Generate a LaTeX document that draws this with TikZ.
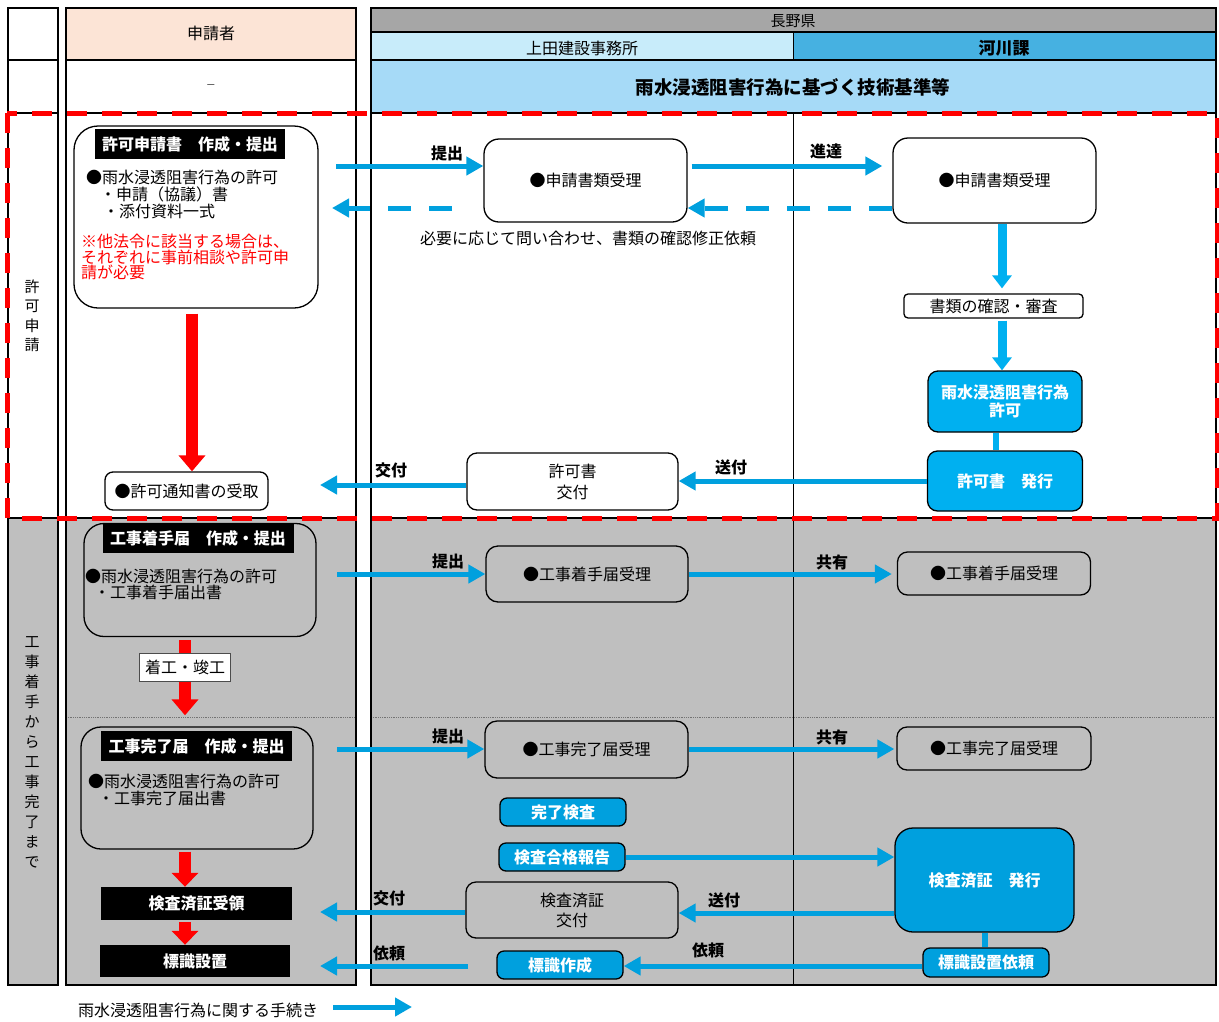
\documentclass[tikz,border=0pt]{standalone}
\usepackage{fontspec}
\setmainfont{Noto Sans CJK JP}
\usetikzlibrary{arrows.meta}
\definecolor{peach}{HTML}{FCE4D6}
\definecolor{hgray}{HTML}{A6A6A6}
\definecolor{paleblue}{HTML}{C8ECFA}
\definecolor{midblue}{HTML}{46B1E1}
\definecolor{rowblue}{HTML}{A6DAF7}
\definecolor{secgray}{HTML}{BFBFBF}
\definecolor{blueA}{HTML}{00B0F0}
\definecolor{blueB}{HTML}{00A0DE}
\definecolor{arrblue}{HTML}{00A0DE}
\begin{document}
\begin{tikzpicture}[x=1pt,y=-1pt,
  font=\fontsize{16}{19}\selectfont,
  pbox/.style={draw=black, line width=1.3pt, rounded corners=12pt, align=center, inner sep=0pt},
  titlebox/.style={fill=black, text=white, font=\bfseries\fontsize{16}{19}\selectfont, inner sep=0pt},
  bluebox/.style={draw=black, line width=1.3pt, rounded corners=7pt, fill=blueB, text=white, font=\bfseries\fontsize{16}{18}\selectfont, align=center, inner sep=0pt},
  harrow/.style={draw=arrblue, line width=5pt, -{Triangle[width=18pt,length=17pt]}},
  varrow/.style={draw=blueA, line width=9pt, -{Triangle[width=19pt,length=13pt]}},
  redarrow/.style={draw=red, line width=12pt, -{Triangle[width=26pt,length=16pt]}},
  lbl/.style={font=\bfseries\fontsize{16}{19}\selectfont, inner sep=0pt},
  txt/.style={anchor=west, inner sep=0pt},
  hdr/.style={inner sep=0pt}
]
\useasboundingbox (0,0) rectangle (1219,1021);
\fill[white] (0,0) rectangle (1219,1021);
% header fills
\fill[peach] (66,8) rectangle (356,60);
\fill[hgray] (371,8) rectangle (1216,32);
\fill[paleblue] (371,32) rectangle (793,60);
\fill[midblue] (793,32) rectangle (1216,60);
\fill[rowblue] (371,60) rectangle (1216,113);
% section 2 fills
\fill[secgray] (8,518) rectangle (58,985);
\fill[secgray] (66,518) rectangle (356,985);
\fill[secgray] (371,518) rectangle (1216,985);
% dotted separator
\draw[black!55, densely dotted, line width=0.8pt] (66,717) -- (356,717);
\draw[black!55, densely dotted, line width=0.8pt] (371,717) -- (1216,717);
% thin lines
\draw[line width=0.8pt] (793,32) -- (793,60);
\draw[line width=0.8pt] (793,113) -- (793,985);
% borders
\draw[line width=1.8pt] (8,8) rectangle (58,985);
\draw[line width=1.8pt] (66,8) rectangle (356,985);
\draw[line width=1.8pt] (371,8) rectangle (1216,985);
\draw[line width=1.2pt] (371,32) -- (1216,32);
\foreach \yy in {60,113,518} {
  \draw[line width=1.8pt] (8,\yy) -- (58,\yy);
  \draw[line width=1.8pt] (66,\yy) -- (356,\yy);
  \draw[line width=1.8pt] (371,\yy) -- (1216,\yy);
}
% red dashed frame
\draw[red, line width=5pt, dash pattern=on 20pt off 15pt] (7,113) rectangle (1217,518);

% header texts
\node[hdr] (h1) at (211,33) {申請者};
\node[hdr, text=black!60, font=\fontsize{16}{18}\selectfont] (h2) at (211,87) {–};
\node[hdr, font=\fontsize{15}{18}\selectfont] (h3) at (793,21) {長野県};
\node[hdr] (h4) at (582,48) {上田建設事務所};
\node[hdr, font=\bfseries\fontsize{17}{19}\selectfont] (h5) at (1004,48) {河川課};
\node[hdr, font=\bfseries\fontsize{18.5}{21}\selectfont] (h6) at (793,87) {雨水浸透阻害行為に基づく技術基準等};

% left column labels
\node[hdr, align=center, font=\fontsize{15}{19.5}\selectfont] (v1) at (32,316) {許\\可\\申\\請};
\node[hdr, align=center, font=\fontsize{15}{20}\selectfont] (v2) at (32,752) {工\\事\\着\\手\\か\\ら\\工\\事\\完\\了\\ま\\で};

% ===== Section 1 =====
\node[pbox, rounded corners=24pt, minimum width=244pt, minimum height=182pt] (A1) at (196,217) {};
\node[titlebox, minimum width=190pt, minimum height=30pt] (A1t) at (190,144) {許可申請書　作成・提出};
\node[txt] (a1l1) at (86,177) {●雨水浸透阻害行為の許可};
\node[txt] (a1l2) at (86,194) {\hspace*{14pt}・申請（協議）書};
\node[txt] (a1l3) at (86,211) {\hspace*{17pt}・添付資料一式};
\node[txt, text=red] (a1r1) at (81,241) {※他法令に該当する場合は、};
\node[txt, text=red] (a1r2) at (81,257) {それぞれに事前相談や許可申};
\node[txt, text=red] (a1r3) at (81,272) {請が必要};

\node[pbox, rounded corners=8pt, minimum width=163pt, minimum height=38pt] (A2) at (186.5,491) {●許可通知書の受取};
\draw[redarrow, shorten <=5pt] ([xshift=-4pt]A1.south) -- ([xshift=-4pt]A1.south |- A2.north);

\node[pbox, rounded corners=15pt, minimum width=203pt, minimum height=83pt] (B1) at (585.5,180.5) {●申請書類受理};
\node[pbox, rounded corners=15pt, minimum width=203pt, minimum height=85pt] (C1) at (994.5,180.5) {●申請書類受理};
\node[pbox, rounded corners=4pt, minimum width=179pt, minimum height=24pt] (rev) at (993.5,306) {書類の確認・審査};
\node[bluebox, fill=blueA, rounded corners=10pt, minimum width=154pt, minimum height=61pt] (C3) at (1005,401.5) {雨水浸透阻害行為\\許可};
\node[bluebox, fill=blueA, rounded corners=10pt, minimum width=155pt, minimum height=60pt] (C4) at (1005,481) {許可書　発行};
\node[pbox, rounded corners=10pt, minimum width=211pt, minimum height=57pt, font=\fontsize{16}{21}\selectfont] (B2) at (572.5,481.5) {許可書\\交付};

\coordinate (s1) at (336,166);
\draw[harrow] (s1) -- (s1 -| B1.west);
\node[lbl] (l1) at (447,153) {提出};
\draw[harrow, shorten <=4pt, shorten >=10pt] (s1 -| B1.east) -- (s1 -| C1.west);
\node[lbl] (l2) at (826,151) {進達};

\coordinate (d1) at (0,208);
\draw[harrow, dash pattern=on 23pt off 18pt] (d1 -| C1.west) -- (d1 -| B1.east);
\coordinate (d2s) at (452,208);
\coordinate (d2e) at (332,208);
\draw[harrow, dash pattern=on 23pt off 18pt] (d2s) -- (d2e);
\node[hdr] (note) at (588,238) {必要に応じて問い合わせ、書類の確認修正依頼};

\coordinate (vx) at (1002,0);
\draw[varrow, shorten >=5pt] (C1.south -| vx) -- (rev.north -| vx);
\draw[varrow, shorten <=2pt] (rev.south -| vx) -- (C3.north -| vx);
\coordinate (cx) at (996,0);
\draw[blueA, line width=6pt] (C3.south -| cx) -- (C4.north -| cx);

\draw[harrow] (C4.west) -- (C4.west -| B2.east);
\node[lbl] (l3) at (731,467) {送付};
\coordinate (k1) at (320,485);
\draw[harrow] (k1 -| B2.west) -- (k1);
\node[lbl] (l4) at (391,470) {交付};

% ===== Section 2 =====
\node[pbox, rounded corners=20pt, minimum width=232pt, minimum height=113pt] (D1) at (200,580) {};
\node[titlebox, minimum width=191pt, minimum height=30pt] (D1t) at (198,538) {工事着手届　作成・提出};
\node[txt] (d1l1) at (85,576) {●雨水浸透阻害行為の許可};
\node[txt] (d1l2) at (85,592) {\hspace*{9pt}・工事着手届出書};

\node[pbox, rounded corners=20pt, minimum width=232pt, minimum height=122pt] (D2) at (197,788) {};
\node[titlebox, minimum width=191pt, minimum height=30pt] (D2t) at (196.5,746) {工事完了届　作成・提出};
\node[txt] (d2l1) at (88,781) {●雨水浸透阻害行為の許可};
\node[txt] (d2l2) at (88,798) {\hspace*{10pt}・工事完了届出書};

\node[titlebox, minimum width=191pt, minimum height=33pt] (D3) at (196.5,903.5) {検査済証受領};
\node[titlebox, minimum width=190pt, minimum height=32pt] (D4) at (195,961) {標識設置};

\coordinate (rx) at (185,0);
\draw[redarrow, shorten <=3pt, shorten >=11pt] (D1.south -| rx) -- (D2.north -| rx);
\node[draw=black!70, line width=0.8pt, fill=white, minimum width=91pt, minimum height=28pt, inner sep=0pt] (lab) at (185,667) {着工・竣工};
\draw[redarrow, -{Triangle[width=26pt,length=14pt]}, shorten <=2pt] (D2.south -| rx) -- (D3.north -| rx);
\draw[redarrow, -{Triangle[width=26pt,length=14pt]}, shorten <=2pt] (D3.south -| rx) -- (D4.north -| rx);

\node[pbox, rounded corners=12pt, minimum width=202pt, minimum height=56pt] (E1) at (587,574) {●工事着手届受理};
\node[pbox, rounded corners=10pt, minimum width=193pt, minimum height=43pt] (F1) at (994,573.5) {●工事着手届受理};
\node[pbox, rounded corners=12pt, minimum width=203pt, minimum height=57pt] (E2) at (586.5,749.5) {●工事完了届受理};
\node[pbox, rounded corners=10pt, minimum width=194pt, minimum height=43pt] (F2) at (994,748.5) {●工事完了届受理};

\coordinate (s2) at (337,574);
\draw[harrow] (s2) -- (s2 -| E1.west);
\node[lbl] (l5) at (448,561) {提出};
\draw[harrow, shorten >=5pt] (s2 -| E1.east) -- (s2 -| F1.west);
\node[lbl] (l6) at (832,562) {共有};

\coordinate (s3) at (337,749);
\draw[harrow] (s3) -- (s3 -| E2.west);
\node[lbl] (l7) at (448,736) {提出};
\draw[harrow, shorten >=2pt] (s3 -| E2.east) -- (s3 -| F2.west);
\node[lbl] (l8) at (832,737) {共有};

\node[bluebox, minimum width=126pt, minimum height=28pt] (E3) at (563,812) {完了検査};
\node[bluebox, minimum width=126pt, minimum height=28pt] (E4) at (562,857) {検査合格報告};
\node[bluebox, rounded corners=18pt, minimum width=179pt, minimum height=104pt] (F3) at (984.5,880) {検査済証　発行};
\node[pbox, rounded corners=10pt, minimum width=212pt, minimum height=56pt, font=\fontsize{16}{20}\selectfont] (E5) at (572,910) {検査済証\\交付};
\node[bluebox, minimum width=126pt, minimum height=29pt] (F4) at (986,962.5) {標識設置依頼};
\node[bluebox, minimum width=126pt, minimum height=28pt] (E6) at (560,965) {標識作成};

\draw[harrow] (E4.east) -- (E4.east -| F3.west);
\coordinate (s4) at (0,913);
\draw[harrow] (s4 -| F3.west) -- (s4 -| E5.east);
\node[lbl] (l9) at (724,900) {送付};
\coordinate (k2) at (320,912);
\draw[harrow] (k2 -| E5.west) -- (k2);
\node[lbl] (l10) at (389,898) {交付};

\draw[blueB, line width=6pt] (F3.south) -- (F3.south |- F4.north);
\coordinate (s5) at (0,966);
\draw[harrow] (s5 -| F4.west) -- (s5 -| E6.east);
\node[lbl] (l11) at (708,950) {依頼};
\coordinate (k3s) at (468,966);
\coordinate (k3e) at (320,966);
\draw[harrow] (k3s) -- (k3e);
\node[lbl] (l12) at (389,953) {依頼};

% legend
\node[txt] (leg) at (78,1010) {雨水浸透阻害行為に関する手続き};
\coordinate (lege) at (412,1007);
\draw[harrow] (333,1007) -- (lege);
\end{tikzpicture}
\end{document}
